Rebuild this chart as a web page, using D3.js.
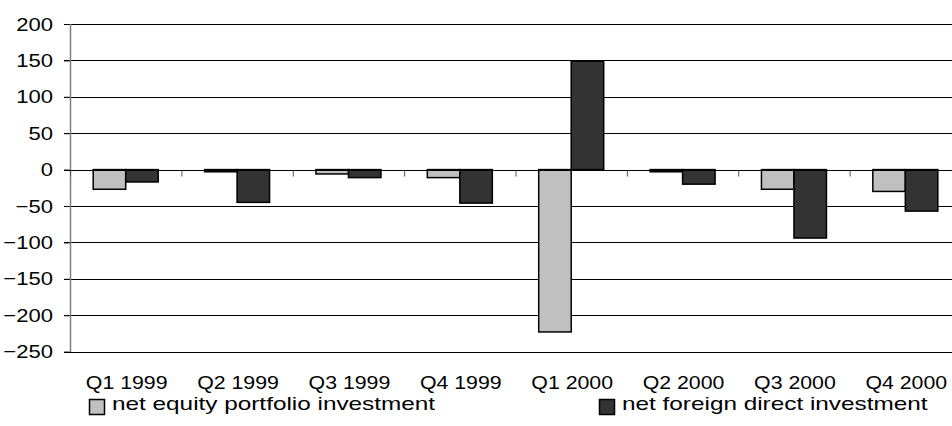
<!DOCTYPE html>
<html>
<head>
<meta charset="utf-8">
<script src="https://cdn.jsdelivr.net/npm/d3@7"></script>
<style>
  html, body { margin: 0; padding: 0; background: #fff; }
  svg { display: block; }
  text { font-family: "Liberation Sans", Arial, sans-serif; fill: #000; }
</style>
</head>
<body>
<svg id="chart" width="952" height="426"></svg>
<script>
// Quarterly flows
const categories = ["Q1 1999", "Q2 1999", "Q3 1999", "Q4 1999", "Q1 2000", "Q2 2000", "Q3 2000", "Q4 2000"];
const seriesNames = ["net equity portfolio investment", "net foreign direct investment"];
const equityPortfolio = [-27, -3, -6, -11, -223, -3, -27, -30];
const foreignDirect = [-17, -45, -11, -46, 149, -20, -94, -57];
const yTicks = [200, 150, 100, 50, 0, -50, -100, -150, -200, -250];
const colors = ["#c0c0c0", "#333333"];

const svg = d3.select("#chart");
const fontSize = 19;

// widen glyphs horizontally, keeping the anchor point fixed
function stretch(sel, factor) {
  sel.each(function () {
    const w = this.getComputedTextLength();
    d3.select(this)
      .attr("textLength", w * factor)
      .attr("lengthAdjust", "spacingAndGlyphs");
  });
}

const plotLeft = 70, plotRight = 961, plotTop = 24, plotBottom = 351.6;

const y = d3.scaleLinear().domain([-250, 200]).range([plotBottom, plotTop]);
const x0 = d3.scaleBand().domain(categories).range([plotLeft, plotRight]).padding(0);
const x1 = d3.scaleBand().domain(seriesNames).range([23.2, 88.2]).padding(0);

// horizontal gridlines with short ticks on the left
const grid = svg.append("g");
grid.selectAll("line")
  .data(yTicks.filter(t => t !== 0))
  .join("line")
  .attr("x1", plotLeft - 6).attr("x2", plotRight)
  .attr("y1", d => Math.round(y(d)) + 0.5).attr("y2", d => Math.round(y(d)) + 0.5)
  .attr("stroke", "#000").attr("stroke-width", 1);

// y axis
const yAxis = d3.axisLeft(y).tickValues(yTicks).tickSize(6).tickPadding(11);
const gy = svg.append("g").attr("transform", `translate(${plotLeft},0)`).call(yAxis);
gy.select(".domain").remove();
gy.selectAll(".tick line").attr("stroke", "#000");
gy.selectAll(".tick text")
  .style("font-size", fontSize + "px")
  .style("font-family", '"Liberation Sans", Arial, sans-serif')
  .attr("fill", "#000")
  .call(stretch, 1.16);
svg.append("line")
  .attr("x1", plotLeft + 0.5).attr("x2", plotLeft + 0.5)
  .attr("y1", plotTop).attr("y2", plotBottom + 0.5)
  .attr("stroke", "#808080").attr("stroke-width", 1.5);

// bars
const rows = categories.map((c, i) => ({ cat: c, vals: [equityPortfolio[i], foreignDirect[i]] }));
const groups = svg.append("g").selectAll("g")
  .data(rows).join("g")
  .attr("transform", d => `translate(${x0(d.cat)},0)`);
groups.selectAll("rect")
  .data(d => d.vals.map((v, k) => ({ v, k })))
  .join("rect")
  .attr("x", d => x1(seriesNames[d.k]))
  .attr("width", x1.bandwidth())
  .attr("y", d => y(Math.max(0, d.v)))
  .attr("height", d => Math.abs(y(d.v) - y(0)))
  .attr("fill", d => colors[d.k])
  .attr("stroke", "#000").attr("stroke-width", 1.5);

// zero line and category ticks
const zeroY = Math.round(y(0)) + 0.5;
svg.append("line")
  .attr("x1", plotLeft - 6).attr("x2", plotRight)
  .attr("y1", zeroY).attr("y2", zeroY)
  .attr("stroke", "#000").attr("stroke-width", 1);
svg.append("g").selectAll("line")
  .data(categories.concat([null]))
  .join("line")
  .attr("x1", (d, i) => plotLeft + i * x0.step() + 0.5)
  .attr("x2", (d, i) => plotLeft + i * x0.step() + 0.5)
  .attr("y1", zeroY).attr("y2", zeroY + 6)
  .attr("stroke", "#555").attr("stroke-width", 1);

// category labels
svg.append("g").selectAll("text")
  .data(categories).join("text")
  .attr("x", d => x0(d) + x0.bandwidth() / 2 + 1)
  .attr("y", 382)
  .attr("dy", "0.35em")
  .attr("text-anchor", "middle")
  .style("font-size", fontSize + "px")
  .text(d => d)
  .call(stretch, 1.12);

// legend
const legendX = [89, 599];
const legend = svg.append("g").selectAll("g")
  .data(seriesNames).join("g")
  .attr("transform", (d, i) => `translate(${legendX[i]},407)`);
legend.append("rect")
  .attr("x", 0.5).attr("y", -7.5).attr("width", 15).attr("height", 15)
  .attr("fill", (d, i) => colors[i]).attr("stroke", "#000").attr("stroke-width", 1.5);
legend.append("text")
  .attr("x", 23).attr("y", -3.5).attr("dy", "0.35em")
  .style("font-size", fontSize + "px")
  .text(d => d)
  .call(stretch, 1.28);
</script>
</body>
</html>
